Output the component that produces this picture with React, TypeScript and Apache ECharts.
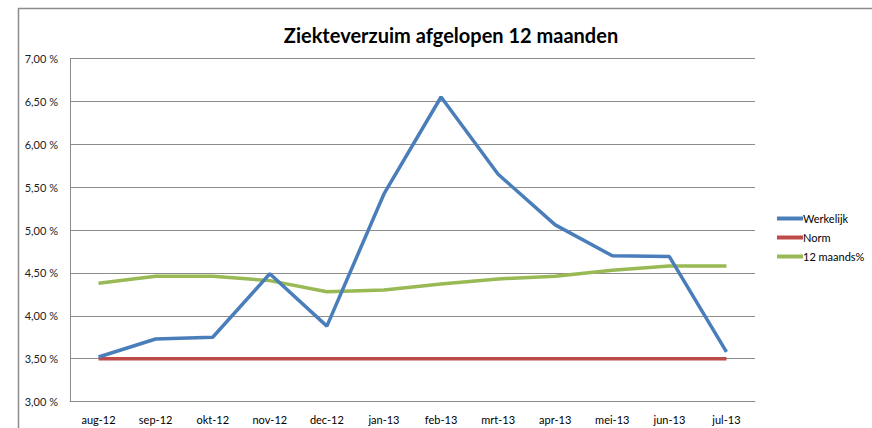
import React, { useEffect, useRef } from "react";
import * as echarts from "echarts";

const categories = ["aug-12", "sep-12", "okt-12", "nov-12", "dec-12", "jan-13", "feb-13", "mrt-13", "apr-13", "mei-13", "jun-13", "jul-13"];
const werkelijk = [3.52, 3.73, 3.75, 4.49, 3.88, 5.42, 6.55, 5.65, 5.06, 4.70, 4.69, 3.58];
const norm = [3.5, 3.5, 3.5, 3.5, 3.5, 3.5, 3.5, 3.5, 3.5, 3.5, 3.5, 3.5];
const twaalfMaands = [4.38, 4.46, 4.46, 4.41, 4.28, 4.30, 4.37, 4.43, 4.46, 4.53, 4.58, 4.58];
const seriesNames = ["Werkelijk", "Norm", "12 maands%"];
const yMin = 3;
const yMax = 7;
const yStep = 0.5;

const FONT = "Lato, 'Open Sans', sans-serif";

export default function App() {
  const ref = useRef<HTMLDivElement>(null);
  useEffect(() => {
    document.body.style.margin = "0";
    const chart = echarts.init(ref.current!, null, { renderer: "svg" });
    chart.setOption({
      animation: false,
      backgroundColor: "#ffffff",
      title: {
        text: "Ziekteverzuim afgelopen 12 maanden",
        left: 446,
        top: 20,
        textAlign: "center",
        textStyle: { fontFamily: FONT, fontSize: 20, fontWeight: "bold", color: "#000" },
      },
      graphic: [
        {
          type: "rect",
          shape: { x: 18.5, y: 8.5, width: 900, height: 500 },
          style: { fill: "none", stroke: "#8c8c8c", lineWidth: 1.5 },
          silent: true,
        },
      ],
      legend: {
        orient: "vertical",
        left: 772,
        top: 208,
        itemWidth: 26,
        itemHeight: 4,
        itemGap: 8,
        icon: "rect",
        data: seriesNames,
        textStyle: { fontFamily: FONT, fontSize: 11, color: "#000", padding: [0, 0, 0, -5] },
      },
      grid: { left: 70, right: 117, top: 58.4, bottom: 26.4 },
      xAxis: {
        type: "category",
        data: categories,
        boundaryGap: true,
        axisLine: { lineStyle: { color: "#8c8c8c", width: 1 } },
        axisTick: { show: false },
        axisLabel: { fontFamily: FONT, fontSize: 11, color: "#000", margin: 12 },
      },
      yAxis: {
        type: "value",
        min: yMin,
        max: yMax,
        interval: yStep,
        axisLine: { show: true, lineStyle: { color: "#8c8c8c", width: 1 } },
        axisTick: { show: false },
        splitLine: { lineStyle: { color: "#8c8c8c", width: 1 } },
        axisLabel: {
          fontFamily: FONT,
          fontSize: 11,
          color: "#222",
          margin: 12,
          formatter: (v: number) => v.toFixed(2).replace(".", ",") + " %",
        },
      },
      series: [
        {
          name: seriesNames[0],
          type: "line",
          data: werkelijk,
          symbol: "none",
          lineStyle: { color: "#4a7ebb", width: 3.5 },
          itemStyle: { color: "#4a7ebb" },
          z: 4,
        },
        {
          name: seriesNames[1],
          type: "line",
          data: norm,
          symbol: "none",
          lineStyle: { color: "#be4b48", width: 3.5 },
          itemStyle: { color: "#be4b48" },
          z: 3,
        },
        {
          name: seriesNames[2],
          type: "line",
          data: twaalfMaands,
          symbol: "none",
          lineStyle: { color: "#98b954", width: 3.5 },
          itemStyle: { color: "#98b954" },
          z: 2,
        },
      ],
    });
    return () => chart.dispose();
  }, []);
  return <div ref={ref} style={{ width: 872, height: 428 }} />;
}
